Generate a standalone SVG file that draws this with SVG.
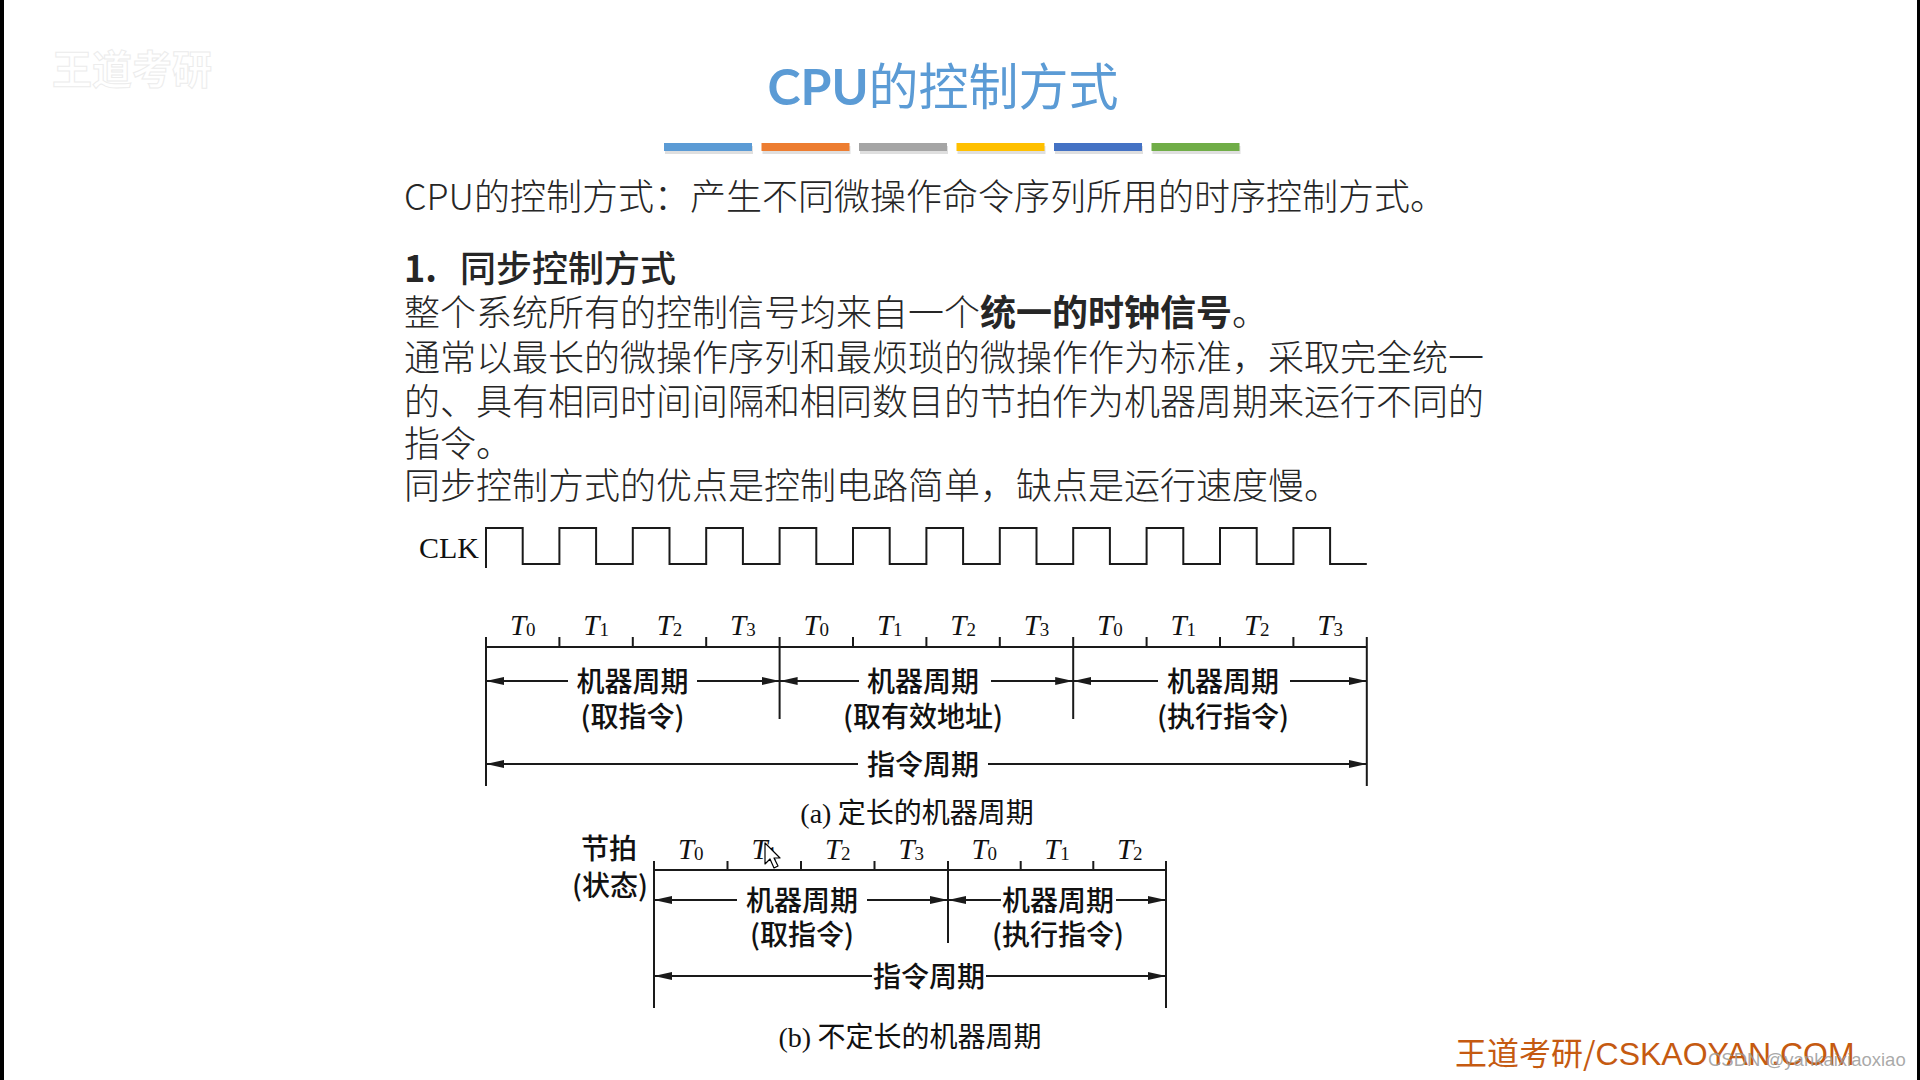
<svg xmlns="http://www.w3.org/2000/svg" width="1920" height="1080" viewBox="0 0 1920 1080">
<defs>
<style>
.body{font-family:"Noto Sans CJK SC","Noto Sans",sans-serif;font-size:36px;fill:#262626;font-weight:300}
.b{font-weight:bold}
.lbl{font-family:"Noto Sans CJK SC","Noto Sans",sans-serif;font-size:28px;fill:#111;font-weight:500;text-anchor:middle}
.cap{font-family:"Noto Sans CJK SC","Noto Sans",sans-serif;font-size:28px;fill:#111;text-anchor:middle}
.tl{font-family:"Liberation Serif",serif;font-size:29px;fill:#111;text-anchor:middle}
.tl .t{font-style:italic}
.tl .s{font-size:19px}
.ln{stroke:#1a1a1a;stroke-width:2;fill:none}
.ar{stroke:#1a1a1a;stroke-width:2;fill:none;marker-end:url(#ah)}
</style>
<marker id="ah" viewBox="0 0 18 8" refX="18" refY="4" markerWidth="18" markerHeight="8" markerUnits="userSpaceOnUse" orient="auto">
<path d="M0,0 L18,4 L0,8 Z" fill="#1a1a1a"/>
</marker>
</defs>
<rect x="0" y="0" width="1920" height="1080" fill="#ffffff"/>
<rect x="0" y="0" width="4" height="1080" fill="#000"/>
<rect x="1917" y="0" width="3" height="1080" fill="#000"/>

<g id="logo">
<text x="52" y="84" font-family="Noto Sans CJK SC,sans-serif" font-size="40" font-weight="bold" fill="#ffffff" stroke="#ececec" stroke-width="1">王道考研</text>
</g>

<g id="title">
<text x="943" y="105" text-anchor="middle" font-family="Noto Sans CJK SC,sans-serif" font-size="50" fill="#5B9BD5"><tspan font-family="Lato,Noto Sans,sans-serif" font-weight="bold">CPU</tspan>的控制方式</text>
</g>

<g id="colorbars">
<g fill="#000" opacity="0.12">
<rect x="665" y="146" width="88" height="8"/><rect x="762.5" y="146" width="88" height="8"/><rect x="860" y="146" width="88" height="8"/><rect x="957.5" y="146" width="88" height="8"/><rect x="1055" y="146" width="88" height="8"/><rect x="1152.5" y="146" width="88" height="8"/>
</g>
<rect x="664" y="143" width="88" height="8" fill="#5B9BD5"/>
<rect x="761.5" y="143" width="88" height="8" fill="#ED7D31"/>
<rect x="859" y="143" width="88" height="8" fill="#A5A5A5"/>
<rect x="956.5" y="143" width="88" height="8" fill="#FFC000"/>
<rect x="1054" y="143" width="88" height="8" fill="#4472C4"/>
<rect x="1151.5" y="143" width="88" height="8" fill="#70AD47"/>
</g>

<g id="bodytext" class="body">
<text x="404" y="210">CPU的控制方式：产生不同微操作命令序列所用的时序控制方式。</text>
<text x="404" y="282"><tspan class="b">1.</tspan><tspan x="460" font-weight="500">同步控制方式</tspan></text>
<text x="404" y="326">整个系统所有的控制信号均来自一个<tspan class="b">统一的时钟信号</tspan>。</text>
<text x="404" y="371">通常以最长的微操作序列和最烦琐的微操作作为标准，采取完全统一</text>
<text x="404" y="415">的、具有相同时间间隔和相同数目的节拍作为机器周期来运行不同的</text>
<text x="404" y="457">指令。</text>
<text x="404" y="499">同步控制方式的优点是控制电路简单，缺点是运行速度慢。</text>
</g>

<g id="clk">
<text x="419" y="558" font-family="Liberation Serif,serif" font-size="30" fill="#111">CLK</text>
<path class="ln" d="M486,568 V528 H522.7 V564 H559.4 V528 H596.1 V564 H632.8 V528 H669.5 V564 H706.2 V528 H742.9 V564 H779.6 V528 H816.3 V564 H853 V528 H889.7 V564 H926.4 V528 H963.1 V564 H999.8 V528 H1036.5 V564 H1073.2 V528 H1109.9 V564 H1146.6 V528 H1183.3 V564 H1220 V528 H1256.7 V564 H1293.4 V528 H1330.1 V564 H1366.8"/>
</g>

<g id="diagram-a">
<g class="tl">
<text x="522.7" y="635"><tspan class="t">T</tspan><tspan class="s" dy="1">0</tspan></text>
<text x="596.1" y="635"><tspan class="t">T</tspan><tspan class="s" dy="1">1</tspan></text>
<text x="669.5" y="635"><tspan class="t">T</tspan><tspan class="s" dy="1">2</tspan></text>
<text x="742.9" y="635"><tspan class="t">T</tspan><tspan class="s" dy="1">3</tspan></text>
<text x="816.3" y="635"><tspan class="t">T</tspan><tspan class="s" dy="1">0</tspan></text>
<text x="889.7" y="635"><tspan class="t">T</tspan><tspan class="s" dy="1">1</tspan></text>
<text x="963.1" y="635"><tspan class="t">T</tspan><tspan class="s" dy="1">2</tspan></text>
<text x="1036.5" y="635"><tspan class="t">T</tspan><tspan class="s" dy="1">3</tspan></text>
<text x="1109.9" y="635"><tspan class="t">T</tspan><tspan class="s" dy="1">0</tspan></text>
<text x="1183.3" y="635"><tspan class="t">T</tspan><tspan class="s" dy="1">1</tspan></text>
<text x="1256.7" y="635"><tspan class="t">T</tspan><tspan class="s" dy="1">2</tspan></text>
<text x="1330.1" y="635"><tspan class="t">T</tspan><tspan class="s" dy="1">3</tspan></text>
</g>
<path class="ln" d="M486,647 H1366.8 M486,637 V786 M1366.8,637 V786 M779.6,637 V719 M1073.2,637 V719 M559.4,637 V647 M632.8,637 V647 M706.2,637 V647 M853,637 V647 M926.4,637 V647 M999.8,637 V647 M1146.6,637 V647 M1220,637 V647 M1293.4,637 V647"/>
<g id="a-connectors">
<line class="ar" x1="568" y1="681" x2="486" y2="681"/>
<line class="ar" x1="697" y1="681" x2="779.6" y2="681"/>
<line class="ar" x1="859" y1="681" x2="779.6" y2="681"/>
<line class="ar" x1="991" y1="681" x2="1073.2" y2="681"/>
<line class="ar" x1="1158" y1="681" x2="1073.2" y2="681"/>
<line class="ar" x1="1290" y1="681" x2="1366.8" y2="681"/>
<line class="ar" x1="858" y1="764" x2="486" y2="764"/>
<line class="ar" x1="988" y1="764" x2="1366.8" y2="764"/>
</g>
<text class="lbl" x="632.5" y="692">机器周期</text>
<text class="lbl" x="923" y="692">机器周期</text>
<text class="lbl" x="1223" y="692">机器周期</text>
<text class="lbl" x="632.5" y="727">(取指令)</text>
<text class="lbl" x="923" y="727">(取有效地址)</text>
<text class="lbl" x="1223" y="727">(执行指令)</text>
<text class="lbl" x="923" y="775">指令周期</text>
<text class="cap" x="917" y="823"><tspan font-family="Liberation Serif,serif">(a)</tspan> 定长的机器周期</text>
</g>

<g id="diagram-b">
<text class="lbl" x="609" y="859">节拍</text>
<text class="lbl" x="610" y="896">(状态)</text>
<g class="tl">
<text x="690.8" y="859"><tspan class="t">T</tspan><tspan class="s" dy="1">0</tspan></text>
<text x="764.3" y="859"><tspan class="t">T</tspan><tspan class="s" dy="1">1</tspan></text>
<text x="837.8" y="859"><tspan class="t">T</tspan><tspan class="s" dy="1">2</tspan></text>
<text x="911.3" y="859"><tspan class="t">T</tspan><tspan class="s" dy="1">3</tspan></text>
<text x="984.3" y="859"><tspan class="t">T</tspan><tspan class="s" dy="1">0</tspan></text>
<text x="1057" y="859"><tspan class="t">T</tspan><tspan class="s" dy="1">1</tspan></text>
<text x="1129.7" y="859"><tspan class="t">T</tspan><tspan class="s" dy="1">2</tspan></text>
</g>
<path class="ln" d="M654,870 H1166 M654,861 V1008 M1166,861 V1008 M948,861 V943 M727.5,861 V870 M801,861 V870 M874.5,861 V870 M1020.7,861 V870 M1093.3,861 V870"/>
<g id="b-connectors">
<line class="ar" x1="737" y1="900" x2="654" y2="900"/>
<line class="ar" x1="867" y1="900" x2="948" y2="900"/>
<line class="ar" x1="1001" y1="900" x2="948" y2="900"/>
<line class="ar" x1="1116" y1="900" x2="1166" y2="900"/>
<line class="ar" x1="872" y1="976" x2="654" y2="976"/>
<line class="ar" x1="986" y1="976" x2="1166" y2="976"/>
</g>
<text class="lbl" x="802" y="911">机器周期</text>
<text class="lbl" x="1058" y="911">机器周期</text>
<text class="lbl" x="802" y="945">(取指令)</text>
<text class="lbl" x="1058" y="945">(执行指令)</text>
<text class="lbl" x="929" y="987">指令周期</text>
<text class="cap" x="910" y="1047"><tspan font-family="Liberation Serif,serif">(b)</tspan> 不定长的机器周期</text>
<path d="M765,843 V864 L770,859 L774,868 L778,866 L774,858 L780,858 Z" fill="#fff" stroke="#000" stroke-width="1.2" stroke-linejoin="round"/>
</g>

<g id="watermark">
<text x="1455" y="1065" font-family="Noto Sans CJK SC,Liberation Sans,sans-serif" font-size="32" fill="#C55A11">王道考研/<tspan font-family="Liberation Sans,sans-serif">CSKAOYAN.COM</tspan></text>
<text x="1708" y="1066" font-family="Liberation Sans,sans-serif" font-size="18.5" fill="#9a9a9a" fill-opacity="0.85">CSDN @yankaixiaoxiao</text>
</g>
</svg>
